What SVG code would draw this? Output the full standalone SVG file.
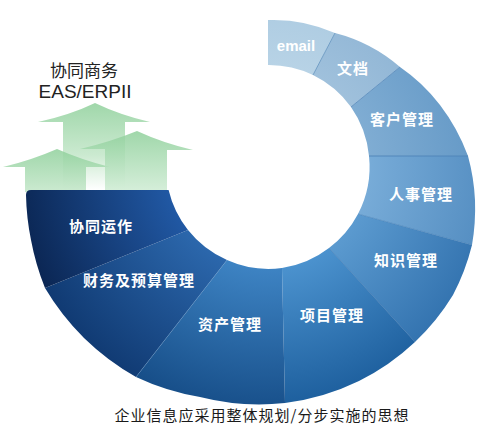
<svg xmlns="http://www.w3.org/2000/svg" width="496" height="447" viewBox="0 0 496 447">
<defs>
<style>
.seg-label{font-family:"Noto Sans CJK SC","Noto Sans",sans-serif;font-size:15px;font-weight:bold;fill:#ffffff;text-anchor:middle;letter-spacing:1px}
.en-label{font-family:"Liberation Sans",Arial,sans-serif;font-size:15px;font-weight:bold;fill:#ffffff;text-anchor:middle}
.title{font-family:"Noto Sans CJK SC",sans-serif;font-size:17px;fill:#222222;text-anchor:middle}
.title-en{font-family:"Liberation Sans",Arial,sans-serif;font-size:19px;fill:#222222;text-anchor:middle}
.caption{font-family:"Noto Sans CJK SC",sans-serif;font-size:15px;fill:#1a1a1a;text-anchor:middle;letter-spacing:1px}
.seam{stroke-width:0.9;fill:none}
.arrow{opacity:0.85}
</style>
<radialGradient id="gEmail" gradientUnits="userSpaceOnUse" cx="268" cy="167" r="260"><stop offset="0.38" stop-color="#b8d3e6"/><stop offset="1" stop-color="#9cc0db"/></radialGradient>
<radialGradient id="gDoc" gradientUnits="userSpaceOnUse" cx="268" cy="167" r="260"><stop offset="0.38" stop-color="#a0c1dc"/><stop offset="1" stop-color="#7fa9ce"/></radialGradient>
<radialGradient id="gCrm" gradientUnits="userSpaceOnUse" cx="268" cy="167" r="260"><stop offset="0.38" stop-color="#80add3"/><stop offset="1" stop-color="#5890c1"/></radialGradient>
<radialGradient id="gHr" gradientUnits="userSpaceOnUse" cx="268" cy="167" r="260"><stop offset="0.38" stop-color="#78acd8"/><stop offset="1" stop-color="#4a85bb"/></radialGradient>
<radialGradient id="gKm" gradientUnits="userSpaceOnUse" cx="268" cy="167" r="260"><stop offset="0.38" stop-color="#5c9bd0"/><stop offset="1" stop-color="#2a6aa8"/></radialGradient>
<radialGradient id="gPm" gradientUnits="userSpaceOnUse" cx="268" cy="167" r="260"><stop offset="0.38" stop-color="#4c93cf"/><stop offset="1" stop-color="#165796"/></radialGradient>
<radialGradient id="gAm" gradientUnits="userSpaceOnUse" cx="268" cy="167" r="260"><stop offset="0.38" stop-color="#3e84c4"/><stop offset="1" stop-color="#134983"/></radialGradient>
<radialGradient id="gFm" gradientUnits="userSpaceOnUse" cx="268" cy="167" r="260"><stop offset="0.38" stop-color="#2c68ad"/><stop offset="1" stop-color="#0f3870"/></radialGradient>
<radialGradient id="gCo" gradientUnits="userSpaceOnUse" cx="268" cy="167" r="260"><stop offset="0.38" stop-color="#2159a5"/><stop offset="1" stop-color="#0a2450"/></radialGradient>
<linearGradient id="gGreenA" x1="0" y1="103" x2="0" y2="190" gradientUnits="userSpaceOnUse"><stop offset="0" stop-color="#8fd09b"/><stop offset="0.6" stop-color="#c2e6c8"/><stop offset="1" stop-color="#ffffff"/></linearGradient>
<linearGradient id="gGreenB" x1="0" y1="149" x2="0" y2="190" gradientUnits="userSpaceOnUse"><stop offset="0" stop-color="#8fd09b"/><stop offset="1" stop-color="#c0e5c6"/></linearGradient>
<linearGradient id="gGreenC" x1="0" y1="131" x2="0" y2="190" gradientUnits="userSpaceOnUse"><stop offset="0" stop-color="#8fd09b"/><stop offset="1" stop-color="#cdebd2"/></linearGradient>
</defs>
<rect width="496" height="447" fill="#ffffff"/>

<g id="arrows">
<path class="arrow" fill="url(#gGreenA)" d="M38,122 Q70,115 95,103 Q120,115 150,122 L125,122 L125,192 L63,192 L63,122 Z"/>
<path class="arrow" fill="url(#gGreenB)" d="M3,167 Q32,160 57,149 Q82,160 110,167 L86,167 L86,192 L25,192 L25,167 Z"/>
<path class="arrow" fill="url(#gGreenC)" d="M80,149 Q110,142 137,131 Q163,143 193,150 L167,150 L167,192 L105,192 L105,149 Z"/>
</g>

<g id="title">
<text class="title" x="84" y="77">协同商务</text>
<text class="title-en" x="85" y="98">EAS/ERPII</text>
</g>

<g id="seg-email">
<path fill="url(#gEmail)" d="M268,20 A150,150 0 0 1 335,33 L313,75 A102,102 0 0 0 268,65 Z"/>
<text class="en-label" x="296" y="51">email</text>
</g>
<g id="seg-doc">
<path fill="url(#gDoc)" d="M335,33 A160,160 0 0 1 400,67 L351,107 A102,102 0 0 0 313,75 Z"/>
<text class="seg-label" x="353" y="74">文档</text>
</g>
<g id="seg-crm">
<path fill="url(#gCrm)" d="M400,67 A175,175 0 0 1 440,105 A195,195 0 0 1 468,156 L369,156 A102,102 0 0 0 351,107 Z"/>
<text class="seg-label" x="402" y="125">客户管理</text>
</g>
<g id="seg-hr">
<path fill="url(#gHr)" d="M468,156 A205,205 0 0 1 475,200 A215,215 0 0 1 472,245 L358,214 A102,102 0 0 0 369,156 Z"/>
<text class="seg-label" x="421" y="200">人事管理</text>
</g>
<g id="seg-km">
<path fill="url(#gKm)" d="M472,245 A222,222 0 0 1 453,295 A228,228 0 0 1 415,342 L329,248 A102,102 0 0 0 358,214 Z"/>
<text class="seg-label" x="406" y="266">知识管理</text>
</g>
<g id="seg-pm">
<path fill="url(#gPm)" d="M415,342 A232,232 0 0 1 359,381 A236,236 0 0 1 285,403 L282,268 A102,102 0 0 0 329,248 Z"/>
<text class="seg-label" x="332" y="321">项目管理</text>
</g>
<g id="seg-am">
<path fill="url(#gAm)" d="M285,403 A240,240 0 0 1 200,397 A245,245 0 0 1 136,377 L227,260 A102,102 0 0 0 282,268 Z"/>
<text class="seg-label" x="230" y="330">资产管理</text>
</g>
<g id="seg-fm">
<path fill="url(#gFm)" d="M136,377 A250,250 0 0 1 84,338 A252,252 0 0 1 45,288 L188,230 A102,102 0 0 0 227,260 Z"/>
<text class="seg-label" x="139" y="286">财务及预算管理</text>
</g>
<g id="seg-co">
<path fill="url(#gCo)" d="M45,288 A250,250 0 0 1 31,240 A250,250 0 0 1 26,195 Q26,190 31,190 L168.6,190 A102,102 0 0 0 188,230 Z"/>
<text class="seg-label" x="101" y="232">协同运作</text>
</g>

<g id="connectors">
<line class="seam" stroke="#6a98c2" x1="335" y1="33" x2="313" y2="75"/>
<line class="seam" stroke="#5f8fbd" x1="400" y1="67" x2="351" y2="107"/>
<line class="seam" stroke="#4f84b8" x1="468" y1="156" x2="369" y2="156"/>
<line class="seam" stroke="#3f7ab3" stroke-opacity="0.6" x1="472" y1="245" x2="358" y2="214"/>
<line class="seam" stroke="#2e6aa6" stroke-opacity="0.5" x1="415" y1="342" x2="329" y2="248"/>
<line class="seam" stroke="#6a9fd0" stroke-opacity="0.4" x1="136" y1="377" x2="227" y2="260"/>
</g>

<g id="caption">
<text class="caption" x="262" y="421">企业信息应采用整体规划/分步实施的思想</text>
</g>
</svg>
